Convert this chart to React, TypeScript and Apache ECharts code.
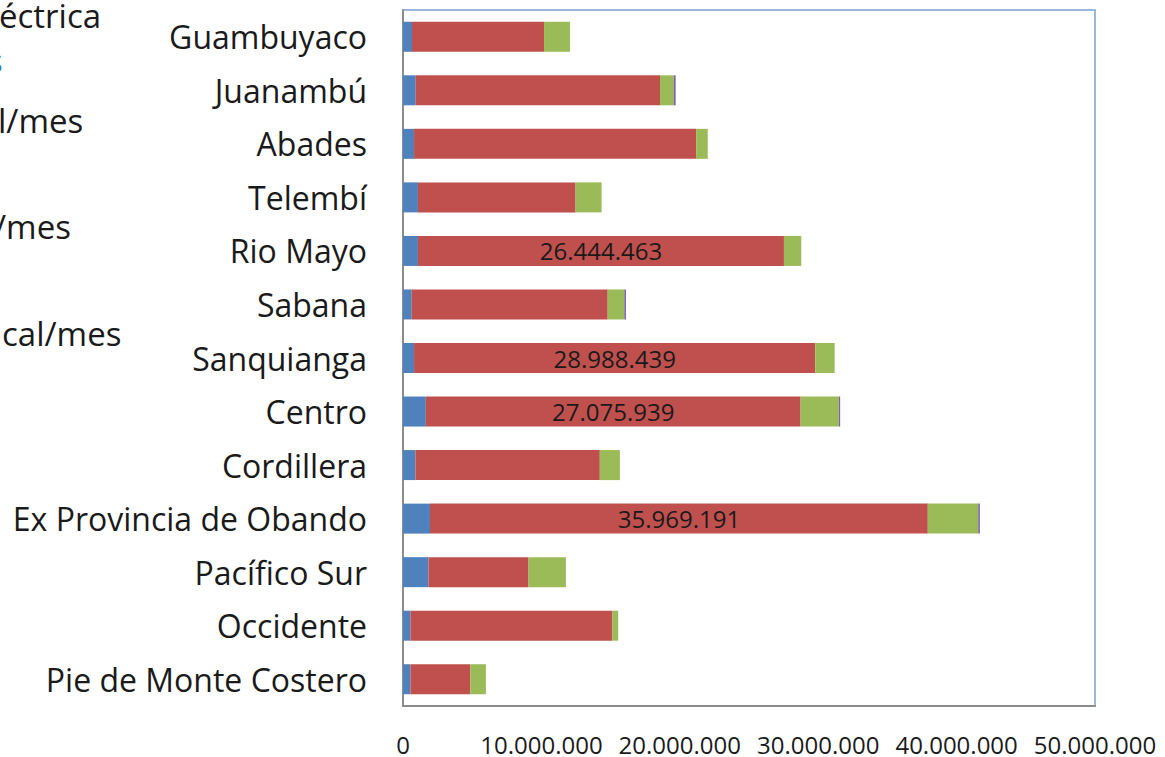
import React, { useEffect, useRef } from "react";
import * as echarts from "echarts";

const categories = [
  "Guambuyaco",
  "Juanambú",
  "Abades",
  "Telembí",
  "Rio Mayo",
  "Sabana",
  "Sanquianga",
  "Centro",
  "Cordillera",
  "Ex Provincia de Obando",
  "Pacífico Sur",
  "Occidente",
  "Pie de Monte Costero",
];

const blueValues = [650000, 920000, 800000, 1080000, 1080000, 630000, 800000, 1650000, 900000, 1950000, 1840000, 540000, 540000];
const redValues = [9540000, 17650000, 20380000, 11390000, 26444463, 14160000, 28988439, 27075939, 13320000, 35969191, 7230000, 14590000, 4330000];
const greenValues = [1880000, 990000, 840000, 1880000, 1250000, 1200000, 1400000, 2760000, 1450000, 3640000, 2700000, 420000, 1120000];
const purpleValues = [0, 140000, 0, 0, 0, 120000, 0, 100000, 0, 120000, 0, 0, 0];
const labelledRed = ["Rio Mayo", "Sanquianga", "Centro", "Ex Provincia de Obando"];

const xTicks = { min: 0, max: 50000000, interval: 10000000 };

const legendFragments = [
  { text: "éctrica", x: -1, y: 15, color: "#1a1a1a" },
  { text: "s", x: -13, y: 60, color: "#2f7fc1" },
  { text: "l/mes", x: -2, y: 120, color: "#1a1a1a" },
  { text: "/mes", x: -6, y: 226, color: "#1a1a1a" },
  { text: "cal/mes", x: 2, y: 333, color: "#1a1a1a" },
];

const fmt = (v: number) => String(Math.round(v)).replace(/\B(?=(\d{3})+(?!\d))/g, ".");

const FONT = "'Open Sans', sans-serif";

export default function App() {
  const ref = useRef<HTMLDivElement>(null);
  useEffect(() => {
    if (!ref.current) return;
    const chart = echarts.init(ref.current, undefined, { renderer: "svg" });
    const mk = (name: string, values: number[], color: string, withLabels = false) => ({
      name,
      type: "bar",
      stack: "total",
      barWidth: 30,
      itemStyle: { color },
      data: values.map((v, i) =>
        withLabels && labelledRed.includes(categories[i])
          ? {
              value: v,
              label: {
                show: true,
                position: "inside",
                formatter: (p: any) => fmt(p.value),
                color: "#1a1a1a",
                fontSize: 24,
                fontFamily: FONT,
              },
            }
          : v
      ),
    });
    chart.setOption({
      animation: false,
      backgroundColor: "#ffffff",
      grid: {
        left: 403,
        right: 70,
        top: 10,
        bottom: 51,
        show: true,
        borderColor: "#7da0d0",
        borderWidth: 1.5,
        containLabel: false,
      },
      xAxis: {
        type: "value",
        min: xTicks.min,
        max: xTicks.max,
        interval: xTicks.interval,
        axisLine: { show: true, lineStyle: { color: "#8c8c8c", width: 2 } },
        axisTick: { show: false },
        splitLine: { show: false },
        axisLabel: {
          formatter: (v: number) => fmt(v),
          color: "#1a1a1a",
          fontSize: 24,
          fontFamily: FONT,
          margin: 26,
          showMaxLabel: true,
          showMinLabel: true,
        },
      },
      yAxis: {
        type: "category",
        inverse: true,
        data: categories,
        axisLine: { show: true, lineStyle: { color: "#8c8c8c", width: 2 } },
        axisTick: { show: false },
        axisLabel: {
          color: "#1a1a1a",
          fontSize: 32,
          fontFamily: FONT,
          margin: 36,
        },
      },
      series: [
        mk("Azul", blueValues, "#4f81bd"),
        mk("Rojo", redValues, "#c0504d", true),
        mk("Verde", greenValues, "#9bbb59"),
        mk("Morado", purpleValues, "#8064a2"),
      ],
      graphic: legendFragments.map((f) => ({
        type: "text",
        x: f.x,
        y: f.y,
        style: {
          text: f.text,
          fill: f.color,
          font: `33px ${FONT}`,
          verticalAlign: "middle",
        },
      })),
    });
    return () => chart.dispose();
  }, []);
  return (
    <div
      ref={ref}
      style={{ position: "fixed", left: 0, top: 0, width: 1165, height: 757, background: "#fff" }}
    />
  );
}
